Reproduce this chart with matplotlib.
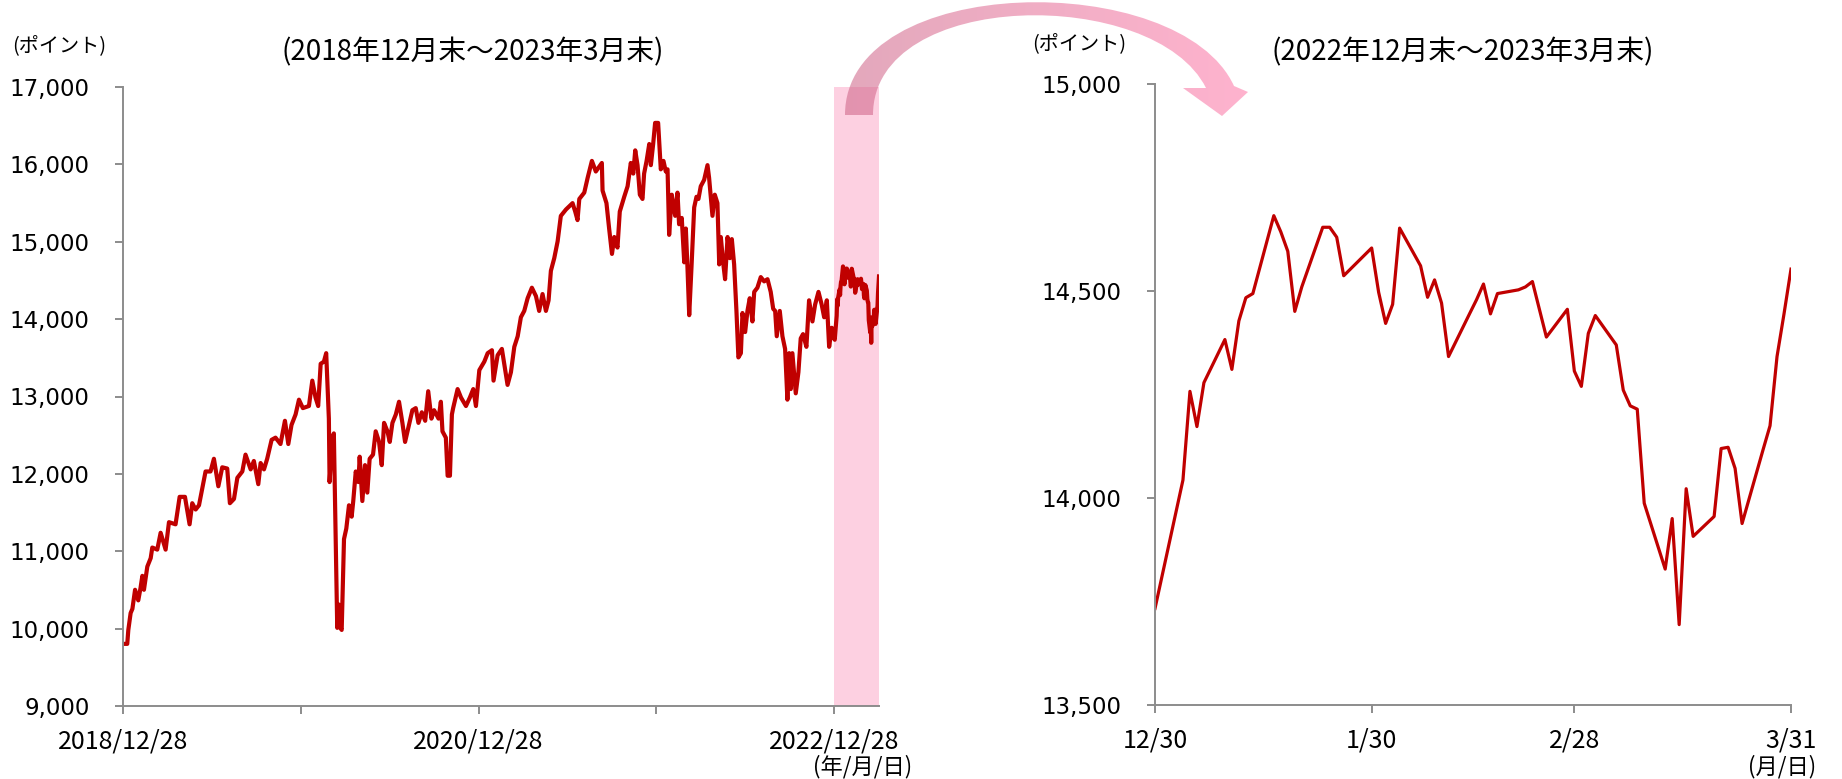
import numpy as np
import pandas as pd
import matplotlib
matplotlib.use('Agg')
import matplotlib.pyplot as plt
import matplotlib.dates as dates
from matplotlib.path import Path
from matplotlib.patches import PathPatch
from matplotlib.ticker import FuncFormatter

# long-run series (2018/12/28 - 2022/12/28), position as decimal year
long_t = [2018.989, 2019.013, 2019.019, 2019.032, 2019.042, 2019.057, 2019.075, 2019.088,
          2019.098, 2019.107, 2019.126, 2019.145, 2019.154, 2019.182, 2019.201, 2019.229,
          2019.248, 2019.285, 2019.308, 2019.338, 2019.364, 2019.379, 2019.398, 2019.417,
          2019.454, 2019.482, 2019.501, 2019.526, 2019.548, 2019.576, 2019.591, 2019.614,
          2019.633, 2019.661, 2019.679, 2019.708, 2019.726, 2019.751, 2019.764, 2019.783,
          2019.801, 2019.826, 2019.848, 2019.876, 2019.901, 2019.920, 2019.938, 2019.961,
          2019.980, 2020.002, 2020.036, 2020.055, 2020.073, 2020.088, 2020.102, 2020.120,
          2020.133, 2020.148, 2020.152, 2020.167, 2020.176, 2020.186, 2020.195, 2020.205,
          2020.212, 2020.220, 2020.233, 2020.246, 2020.261, 2020.276, 2020.285, 2020.299,
          2020.314, 2020.321, 2020.336, 2020.351, 2020.364, 2020.377, 2020.396, 2020.411,
          2020.430, 2020.445, 2020.458, 2020.477, 2020.490, 2020.505, 2020.524, 2020.542,
          2020.561, 2020.576, 2020.595, 2020.617, 2020.636, 2020.651, 2020.670, 2020.689,
          2020.706, 2020.724, 2020.739, 2020.764, 2020.777, 2020.786, 2020.805, 2020.815,
          2020.828, 2020.839, 2020.846, 2020.871, 2020.890, 2020.918, 2020.940, 2020.959,
          2020.974, 2020.993, 2021.021, 2021.040, 2021.064, 2021.073, 2021.096, 2021.120,
          2021.152, 2021.171, 2021.190, 2021.209, 2021.227, 2021.246, 2021.265, 2021.289,
          2021.312, 2021.330, 2021.349, 2021.368, 2021.383, 2021.396, 2021.415, 2021.434,
          2021.452, 2021.481, 2021.518, 2021.533, 2021.546, 2021.556, 2021.584, 2021.603,
          2021.627, 2021.649, 2021.683, 2021.687, 2021.709, 2021.724, 2021.740, 2021.753,
          2021.771, 2021.784, 2021.809, 2021.828, 2021.846, 2021.860, 2021.871, 2021.884,
          2021.897, 2021.912, 2021.921, 2021.935, 2021.950, 2021.959, 2021.972, 2021.983,
          2022.000, 2022.015, 2022.030, 2022.043, 2022.053, 2022.062, 2022.077, 2022.096,
          2022.109, 2022.118, 2022.133, 2022.147, 2022.156, 2022.165, 2022.175, 2022.188,
          2022.203, 2022.216, 2022.227, 2022.240, 2022.259, 2022.278, 2022.287, 2022.306,
          2022.319, 2022.334, 2022.344, 2022.353, 2022.366, 2022.377, 2022.391, 2022.404,
          2022.415, 2022.428, 2022.441, 2022.452, 2022.466, 2022.475, 2022.490, 2022.503,
          2022.516, 2022.531, 2022.541, 2022.559, 2022.578, 2022.597, 2022.616, 2022.634,
          2022.648, 2022.659, 2022.668, 2022.685, 2022.700, 2022.715, 2022.728, 2022.738,
          2022.747, 2022.756, 2022.775, 2022.790, 2022.803, 2022.816, 2022.835, 2022.850,
          2022.869, 2022.884, 2022.903, 2022.921, 2022.935, 2022.950, 2022.963, 2022.978,
          2022.991]
long_v = [9803, 9803, 9983, 10201, 10256, 10502, 10365, 10529,
          10682, 10502, 10802, 10911, 11048, 11021, 11239, 11021,
          11376, 11348, 11703, 11703, 11348, 11621, 11539, 11594,
          12031, 12031, 12195, 11840, 12085, 12069, 11621, 11676,
          11949, 12031, 12249, 12058, 12167, 11867, 12140, 12058,
          12195, 12440, 12468, 12386, 12686, 12386, 12632, 12768,
          12959, 12850, 12877, 13205, 12987, 12877, 13423, 13450,
          13560, 12713, 11894, 12468, 12523, 11184, 10010, 10311,
          10010, 9983, 11157, 11294, 11594, 11447, 11649, 12031,
          11894, 12222, 11649, 12113, 11758, 12195, 12249, 12550,
          12413, 12113, 12659, 12550, 12413, 12659, 12768, 12932,
          12659, 12413, 12604, 12823, 12850, 12659, 12796, 12686,
          13068, 12714, 12823, 12714, 12932, 12550, 12468, 11976,
          11976, 12768, 12850, 13096, 12987, 12877, 12987, 13096,
          12877, 13341, 13450, 13560, 13598, 13205, 13533, 13615,
          13150, 13314, 13642, 13778, 14024, 14106, 14270, 14406,
          14297, 14106, 14324, 14106, 14242, 14624, 14788, 15006,
          15334, 15417, 15499, 15390, 15280, 15553, 15635, 15826,
          16045, 15908, 16018, 15662, 15499, 15171, 14843, 15061,
          14925, 15390, 15581, 15717, 16018, 15881, 16181, 15990,
          15608, 15553, 15881, 16045, 16263, 15990, 16263, 16536,
          16536, 15936, 16045, 15908, 15936, 15089, 15608, 15335,
          15635, 15226, 15308, 14734, 15171, 14679, 14051, 14679,
          15444, 15581, 15553, 15717, 15799, 15990, 15826, 15335,
          15608, 15499, 14707, 15061, 14734, 14516, 15061, 14788,
          15034, 14707, 14106, 13505, 13560, 14079, 13833, 14106,
          14270, 13970, 14352, 14406, 14543, 14488, 14516, 14352,
          14133, 14106, 13779, 14106, 13779, 13615, 12959, 13560,
          13096, 13560, 13041, 13314, 13751, 13806, 13642, 14243,
          13970, 14188, 14352, 14188, 14024, 14243, 13642, 13888,
          13751]

# last quarter, daily closes
q_dates = ['2022-12-30', '2023-01-03', '2023-01-04', '2023-01-05', '2023-01-06',
           '2023-01-09', '2023-01-10', '2023-01-11', '2023-01-12', '2023-01-13',
           '2023-01-16', '2023-01-17', '2023-01-18', '2023-01-19', '2023-01-20',
           '2023-01-23', '2023-01-24', '2023-01-25', '2023-01-26', '2023-01-30',
           '2023-01-31', '2023-02-01', '2023-02-02', '2023-02-03', '2023-02-06',
           '2023-02-07', '2023-02-08', '2023-02-09', '2023-02-10', '2023-02-13',
           '2023-02-14', '2023-02-15', '2023-02-16', '2023-02-17', '2023-02-20',
           '2023-02-21', '2023-02-22', '2023-02-24', '2023-02-27', '2023-02-28',
           '2023-03-01', '2023-03-02', '2023-03-03', '2023-03-06', '2023-03-07',
           '2023-03-08', '2023-03-09', '2023-03-10', '2023-03-13', '2023-03-14',
           '2023-03-15', '2023-03-16', '2023-03-17', '2023-03-20', '2023-03-21',
           '2023-03-22', '2023-03-23', '2023-03-24', '2023-03-27', '2023-03-28',
           '2023-03-29', '2023-03-30', '2023-03-31']
q_values = [13733, 14043, 14257, 14172, 14278,
            14382, 14310, 14427, 14483, 14493,
            14681, 14642, 14595, 14450, 14509,
            14653, 14653, 14629, 14536, 14603,
            14496, 14421, 14467, 14651, 14560,
            14484, 14526, 14470, 14341, 14444,
            14478, 14516, 14444, 14493, 14502,
            14509, 14522, 14388, 14455, 14306,
            14269, 14397, 14440, 14369, 14260,
            14222, 14214, 13987, 13828, 13950,
            13694, 14022, 13907, 13955, 14119,
            14122, 14071, 13938, 14116, 14174,
            14341, 14444, 14552]

left_ticks = ['2018-12-28', '2019-12-28', '2020-12-28', '2021-12-28', '2022-12-28']
left_ticklabels = ['2018/12/28', '', '2020/12/28', '', '2022/12/28']
right_ticks = ['2022-12-30', '2023-01-30', '2023-02-28', '2023-03-31']
right_ticklabels = ['12/30', '1/30', '2/28', '3/31']


def year_to_date(t):
    "decimal year -> Timestamp"
    y = int(t)
    start = pd.Timestamp(y, 1, 1)
    ndays = (pd.Timestamp(y + 1, 1, 1) - start).days
    return start + pd.Timedelta(days=(t - y) * ndays)


JP = ['Noto Sans CJK JP', 'DejaVu Sans']
RED = '#C00000'
GREY = '#8C8C8C'
W, H = 1842, 779

long_x = [year_to_date(t) for t in long_t]
q_x = list(pd.to_datetime(q_dates))
all_x = long_x + q_x
all_v = long_v + q_values

fig = plt.figure(figsize=(W / 100, H / 100), dpi=100)


def style_axes(ax, pad_y):
    for s in ['top', 'right']:
        ax.spines[s].set_visible(False)
    for s in ['left', 'bottom']:
        ax.spines[s].set_color(GREY)
        ax.spines[s].set_linewidth(1.4)
    ax.tick_params(axis='both', direction='out', length=6, width=1.4, color=GREY)
    ax.tick_params(axis='y', labelsize=16.5, pad=pad_y)
    ax.tick_params(axis='x', labelsize=18, pad=10)
    ax.yaxis.set_major_formatter(FuncFormatter(lambda v, p: '{:,.0f}'.format(v)))
    for lab in ax.get_xticklabels():
        lab.set_fontfamily(JP)


# left: whole period
ax1 = fig.add_axes([123 / W, 1 - 706 / H, 756 / W, 619 / H])
ax1.axvspan(pd.Timestamp('2022-12-28'), pd.Timestamp('2023-03-31'),
            color='#FDD0E1', lw=0, zorder=0)
ax1.plot(all_x, all_v, color=RED, lw=3.0, solid_joinstyle='round', zorder=2)
ax1.set_xlim(pd.Timestamp('2018-12-28'), pd.Timestamp('2023-03-31'))
ax1.set_ylim(9000, 17000)
ax1.set_yticks(np.arange(9000, 17001, 1000))
ax1.set_xticks(pd.to_datetime(left_ticks))
ax1.set_xticklabels(left_ticklabels)
style_axes(ax1, 18)

# right: last quarter
ax2 = fig.add_axes([1155 / W, 1 - 705 / H, 636 / W, 621.5 / H])
ax2.plot(q_x, q_values, color=RED, lw=2.3, solid_joinstyle='round')
ax2.set_xlim(pd.Timestamp('2022-12-30'), pd.Timestamp('2023-03-31'))
ax2.set_ylim(13500, 15000)
ax2.set_yticks(np.arange(13500, 15001, 500))
ax2.set_xticks(pd.to_datetime(right_ticks))
ax2.set_xticklabels(right_ticklabels)
style_axes(ax2, 18)

# texts
fig.text(473 / W, 1 - 52 / H, '(2018年12月末～2023年3月末)', family=JP,
         fontsize=20, ha='center', va='center')
fig.text(1463 / W, 1 - 52 / H, '(2022年12月末～2023年3月末)', family=JP,
         fontsize=20, ha='center', va='center')
fig.text(12 / W, 1 - 46 / H, '(ポイント)', family=JP, fontsize=14.5, ha='left', va='center')
fig.text(1032 / W, 1 - 44 / H, '(ポイント)', family=JP, fontsize=14.5, ha='left', va='center')
fig.text(912 / W, 1 - 767 / H, '(年/月/日)', family=JP, fontsize=16, ha='right', va='center')
fig.text(1816 / W, 1 - 767 / H, '(月/日)', family=JP, fontsize=16, ha='right', va='center')

# curved arrow from the highlighted band to the right chart
ov = fig.add_axes([0, 0, 1, 1], zorder=5)
ov.axis('off')
verts = [(873, 115), (845, 115),
         (845, -28), (1180, -32), (1234, 86),
         (1248, 92), (1222, 116), (1183, 88), (1206, 88),
         (1155, -14), (873, -12), (873, 115),
         (873, 115)]
codes = [Path.MOVETO, Path.LINETO,
         Path.CURVE4, Path.CURVE4, Path.CURVE4,
         Path.LINETO, Path.LINETO, Path.LINETO, Path.LINETO,
         Path.CURVE4, Path.CURVE4, Path.CURVE4,
         Path.CLOSEPOLY]
arrow = PathPatch(Path(verts, codes), facecolor='none', edgecolor='none')
ov.add_patch(arrow)
c0 = np.array([204, 97, 133]) / 255.0
c1 = np.array([255, 117, 166]) / 255.0
frac = np.linspace(0, 1, 256)
grad = np.zeros((1, 256, 4))
grad[0, :, :3] = c0 + (c1 - c0) * frac[:, None]
grad[0, :, 3] = 0.55
img = ov.imshow(grad, extent=[840, 1250, 120, 0], aspect='auto', interpolation='bilinear')
img.set_clip_path(arrow)
ov.set_xlim(0, W)
ov.set_ylim(H, 0)

plt.savefig('out.png', dpi=100)
